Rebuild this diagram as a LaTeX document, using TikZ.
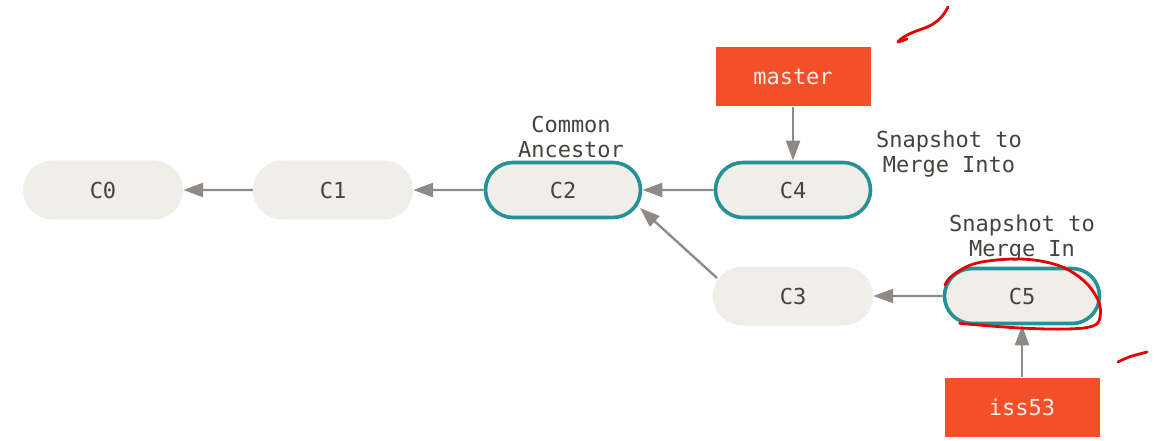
\documentclass[tikz,border=0pt]{standalone}
\usepackage{fontspec}
\setmonofont{DejaVu Sans Mono}
\usetikzlibrary{arrows.meta,shapes.misc}

\definecolor{commitfill}{RGB}{239,238,232}
\definecolor{tealedge}{RGB}{36,145,151}
\definecolor{branchred}{RGB}{243,80,42}
\definecolor{arrowgray}{RGB}{143,138,133}
\definecolor{textgray}{RGB}{70,66,62}
\definecolor{labeltext}{RGB}{245,238,230}
\definecolor{inkred}{RGB}{232,0,0}

\newcommand{\monofont}{\ttfamily\fontsize{22}{25}\selectfont}

\begin{document}
\begin{tikzpicture}[x=1pt,y=-1pt,
  commit/.style={shape=rounded rectangle, fill=commitfill, minimum width=160pt,
    minimum height=59pt, inner sep=0pt, font=\monofont, text=textgray},
  focus/.style={commit, draw=tealedge, line width=3.6pt, minimum width=155pt,
    minimum height=55pt},
  branch/.style={rectangle, fill=branchred, minimum width=155pt, minimum height=59pt,
    inner sep=0pt, font=\monofont, text=labeltext},
  note/.style={align=center, font=\monofont, text=textgray, inner sep=0pt},
  link/.style={draw=arrowgray, line width=2.4pt, -{Triangle[length=20pt,width=14pt]}},
  ink/.style={draw=inkred, line width=2.8pt, line cap=round, line join=round}
]
\useasboundingbox (0,0) rectangle (1160,441);

% commits
\node[commit] (c0) at (103,190) {C0};
\node[commit] (c1) at (333,190) {C1};
\node[focus]  (c2) at (563,190) {C2};
\node[focus]  (c4) at (793,190) {C4};
\node[commit] (c3) at (793,296) {C3};
\node[focus]  (c5) at (1022,296) {C5};

% branch pointers
\node[branch] (master) at (793,77) {master};
\node[branch] (iss53) at (1022,407) {iss53};

% annotations
\node[note] (ancestor) at (571,137) {Common\\Ancestor};
\node[note] (into) at (949,154) {Snapshot to\\Merge Into};
\node[note] (in) at (1022,238) {Snapshot to\\Merge In};

% parent links
\draw[link] (c1) -- (c0);
\draw[link] (c2) -- (c1);
\draw[link] (c4) -- (c2);
\draw[link] (c5) -- (c3);
\draw[link] ([shift={(-76,-18)}]c3.center) -- ([shift={(77,18)}]c2.center);
\draw[link] (master) -- (c4);
\draw[link] (iss53) -- (c5);

% hand-drawn marks
\draw[ink] (948,7) .. controls (942,19) and (934,25) .. (922,29)
           .. controls (910,33) and (902,37) .. (898,42);
\draw[ink] (898,42) -- (907,39);
\draw[ink] plot[smooth, tension=0.6] coordinates {(945,285) (953,275) (977,263) (1020,259)
  (1057,265) (1083,280) (1098,300) (1100,317) (1093,326) (1067,329) (1020,328)
  (967,324) (960,323)};
\draw[ink] (1118,362) .. controls (1128,357) .. (1147,352);
\end{tikzpicture}
\end{document}
